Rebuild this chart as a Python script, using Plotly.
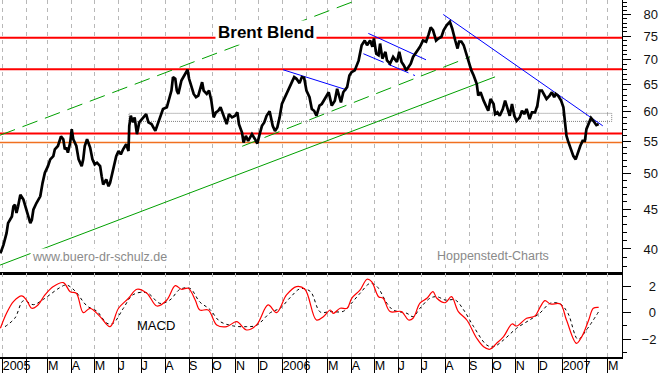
import numpy as np
import pandas as pd
import plotly.graph_objects as go

START = pd.Timestamp("2005-01-01")

# ---------------- data ----------------
# Brent Blend price, days since 2005-01-01
price_days = [
    -3, 1, 5, 7, 12, 14, 16, 18, 20, 23,
    27, 31, 36, 38, 40, 44, 49, 52, 55, 59,
    62, 66, 68, 72, 76, 79, 81, 83, 85, 88,
    90, 92, 96, 99, 101, 103, 105, 107, 110, 114,
    117, 120, 123, 127, 129, 131, 135, 138, 140, 144,
    148, 151, 154, 157, 161, 164, 165, 167, 170, 172,
    175, 178, 182, 187, 190, 194, 199, 203, 207, 209,
    214, 216, 220, 222, 225, 227, 229, 233, 238, 241,
    243, 246, 249, 252, 255, 260, 262, 266, 269, 272,
    275, 278, 281, 284, 287, 290, 292, 295, 299, 303,
    306, 308, 312, 314, 317, 320, 325, 329, 332, 335,
    338, 341, 344, 348, 350, 352, 355, 358, 361, 364,
    367, 370, 374, 377, 380, 383, 387, 390, 393, 396,
    400, 403, 406, 409, 413, 416, 420, 425, 429, 433,
    436, 438, 441, 444, 449, 452, 455, 459, 464, 468,
    472, 475, 479, 482, 484, 487, 490, 492, 495, 499,
    501, 505, 509, 514, 517, 520, 523, 526, 529, 532,
    535, 540, 544, 548, 552, 555, 558, 561, 565, 568,
    572, 575, 579, 583, 586, 590, 593, 595, 598, 601,
    605, 608, 611, 614, 618, 620, 623, 627, 630, 633,
    636, 640, 642, 645, 648, 652, 655, 658, 661, 664,
    667, 670, 674, 677, 680, 683, 687, 690, 694, 697,
    700, 703, 706, 709, 713, 716, 719, 721, 724, 728,
    731, 733, 735, 737, 741, 744, 747, 749, 753, 756,
    759, 761, 764, 767, 770, 774, 777,
]
price_values = [
    39.49, 40.48, 41.92, 43.18, 44.04, 45.36, 45.59, 44.48, 45.36, 46.97,
    46.28, 44.92, 43.18, 43.61, 44.92, 45.82, 46.74, 48.64, 50.11, 51.10,
    52.13, 52.64, 53.71, 54.24, 55.78, 55.33, 53.71, 53.98, 53.18, 54.79,
    57.00, 55.33, 54.24, 52.13, 51.62, 51.10, 52.13, 54.24, 55.33, 53.98,
    52.13, 51.36, 51.62, 51.10, 49.61, 48.39, 49.12, 48.15, 48.64, 50.60,
    52.64, 53.44, 52.91, 53.71, 54.51, 53.44, 57.56, 59.30, 58.15, 59.02,
    56.16, 58.15, 58.72, 59.60, 58.15, 57.86, 56.71, 58.15, 59.60, 60.50,
    60.81, 62.01, 63.89, 66.49, 66.15, 63.89, 63.26, 65.82, 67.14, 67.95,
    66.15, 64.54, 63.26, 62.65, 62.95, 65.50, 63.89, 63.26, 63.89, 62.01,
    59.02, 59.91, 60.19, 60.81, 59.60, 58.72, 57.86, 59.60, 59.02, 59.30,
    59.91, 57.86, 56.44, 54.79, 55.89, 55.05, 56.16, 55.33, 54.63, 56.16,
    57.56, 58.15, 59.30, 60.09, 59.02, 57.56, 56.71, 57.28, 59.02, 61.41,
    62.33, 63.26, 64.21, 65.50, 66.49, 66.15, 65.31, 66.49, 66.35, 63.89,
    62.65, 60.50, 60.19, 59.30, 61.10, 61.41, 62.33, 63.58, 61.10, 62.01,
    64.21, 62.95, 61.70, 63.58, 64.54, 66.81, 67.48, 67.81, 69.80, 73.05,
    74.08, 73.05, 74.08, 72.70, 74.52, 71.26, 70.94, 73.41, 70.21, 71.62,
    69.86, 69.17, 70.56, 69.52, 71.62, 69.52, 68.83, 67.81, 68.50, 69.17,
    70.56, 71.62, 72.70, 74.08, 73.83, 75.26, 77.01, 76.38, 74.08, 74.52,
    74.90, 76.38, 77.52, 78.30, 76.76, 74.08, 72.33, 73.83, 73.83, 73.05,
    70.94, 69.17, 67.81, 66.81, 65.18, 62.95, 63.58, 62.01, 61.10, 60.19,
    62.33, 61.41, 59.60, 59.91, 59.30, 60.50, 62.01, 60.50, 59.30, 61.41,
    59.30, 58.43, 59.02, 60.19, 59.60, 60.50, 58.72, 59.91, 59.91, 61.10,
    63.89, 63.89, 62.95, 62.33, 62.95, 63.58, 62.65, 63.26, 62.95, 62.01,
    60.81, 58.72, 55.89, 55.05, 53.71, 52.64, 52.13, 52.91, 54.24, 55.05,
    55.05, 57.00, 58.15, 58.92, 58.43, 57.68, 57.86,
]

# MACD line and signal line
macd_days = [-3, 5, 14, 25, 31, 38, 46, 55, 66, 79, 88, 96, 105, 114, 127, 140, 151, 164,
             175, 188, 201, 214, 225, 233, 242, 251, 257, 268, 279, 292, 305, 318, 331,
             346, 357, 370, 383, 394, 409, 418, 427, 431, 440, 449, 455, 466, 475, 481,
             490, 496, 505, 520, 529, 535, 544, 553, 561, 566, 577, 585, 594, 605, 618,
             627, 635, 644, 653, 664, 670, 683, 694, 701, 707, 714, 727, 735, 748, 755,
             764, 770, 777]
macd_values = [-1.17, -0.05, 0.83, 1.26, 0.95, 0.33, 0.58, 1.33, 1.96, 2.26, 1.58, 1.46,
               0.0, 0.33, -0.3, -1.05, 0.33, 1.08, 1.76, 1.46, 0.5, 0.95, 2.03, 1.76, 1.83,
               0.95, 0.2, 0.2, -0.92, -1.05, -0.68, -1.3, -0.92, 0.58, 0.0, 1.33, 1.96,
               1.76, -0.55, -0.3, 0.2, -0.05, 0.33, 0.33, 1.08, 1.71, 2.51, 2.33, 1.2,
               1.08, 0.08, 0.08, -0.55, -0.42, 0.71, 1.08, 1.58, 1.08, 0.75, 1.2, 0.08,
               -0.55, -1.92, -2.56, -2.75, -2.3, -1.8, -0.85, -1.0, -0.42, -0.25, 0.45,
               0.9, 0.65, 0.65, -0.55, -2.3, -1.8, -0.55, 0.33, 0.4]
signal_days = [3, 16, 27, 40, 53, 75, 83, 94, 110, 123, 136, 144, 157, 170, 188, 205, 218,
               231, 244, 257, 270, 283, 301, 318, 331, 349, 362, 375, 388, 401, 414, 427,
               444, 453, 466, 479, 488, 501, 509, 527, 535, 544, 557, 566, 577, 590, 601,
               614, 631, 640, 653, 670, 687, 700, 714, 727, 737, 750, 761, 777]
signal_values = [-1.05, -0.4, 0.9, 0.6, 1.0, 1.9, 2.08, 1.65, 0.5, 0.1, -0.8, -0.8, 0.3,
                 1.35, 1.5, 0.7, 0.95, 1.75, 1.83, 0.8, 0.25, -0.65, -1.0, -1.05, -0.95,
                 0.0, 0.35, 1.15, 1.8, 1.6, 0.05, 0.08, 0.1, 0.6, 1.46, 2.2, 1.96, 0.7,
                 0.2, -0.05, -0.3, 0.33, 1.08, 1.2, 0.95, 0.95, 0.2, -1.05, -2.43, -2.56,
                 -2.05, -1.17, -0.55, -0.05, 0.71, 0.65, -0.05, -2.0, -1.3, 0.08]

# horizontal resistance / support levels
red_levels = [74.67, 68.05, 56.29]
orange_levels = [54.79]

# trend lines: [start day, end day], [start price, end price]
green_support_days, green_support_prices = [-3.5, 641.9], [38.14, 66.53]
green_upper_days, green_upper_prices = [-3.5, 468.5], [55.99, 83.93]
green_mid_days, green_mid_prices = [312.2, 609.3], [54.19, 70.60]
blue_a_days, blue_a_prices = [365.4, 448.9], [67.95, 64.00]
blue_b_upper_days, blue_b_upper_prices = [476.7, 551.9], [75.65, 69.97]
blue_b_lower_days, blue_b_lower_prices = [470.2, 537.5], [71.24, 66.78]
blue_c_days, blue_c_prices = [574.4, 782.3], [80.00, 57.57]
# consolidation zone (gray dotted box)
zone_days = [164.7, 794.0]
zone_prices = [58.32, 59.73]

price_ticks = [40, 45, 50, 55, 60, 65, 70, 75, 80]
price_minor = list(range(37, 84))
macd_ticks = [-2, 0, 2]
macd_ticktext = ["\u22122", "\u20070", "\u20072"]
macd_minor = [-3, -1, 1]
month_initials = ["", "", "M", "A", "M", "J", "J", "A", "S", "O", "N", "D"]  # German

assert len(price_days) == len(price_values), (len(price_days), len(price_values))
assert len(macd_days) == len(macd_values), (len(macd_days), len(macd_values))
assert len(signal_days) == len(signal_values), (len(signal_days), len(signal_values))


def to_dates(days):
    return START + pd.to_timedelta(np.asarray(days, dtype=float), unit="D")


x_range = to_dates([-3.52, 807.4])
x_range_str = [d.strftime("%Y-%m-%d %H:%M") for d in x_range]
months = pd.date_range("2005-01-01", "2007-03-01", freq="MS")
month_text = [str(m.year) if m.month == 1 else month_initials[m.month - 1] for m in months]

FONT = "Liberation Sans, Arial, sans-serif"
GRID = "#b8b8b8"
PLOT_H = 357.0

fig = go.Figure()
M = dict(xaxis="x", yaxis="y")
S = dict(xaxis="x2", yaxis="y2")


def line_trace(days, vals, color, width, dash="solid", ax=M, shape="linear"):
    fig.add_trace(go.Scatter(x=to_dates(days), y=vals, mode="lines",
                             line=dict(color=color, width=width, dash=dash, shape=shape),
                             hoverinfo="skip", showlegend=False, **ax))


# horizontal levels
for lvl in red_levels:
    fig.add_trace(go.Scatter(x=x_range, y=[lvl, lvl], mode="lines",
                             line=dict(color="#ff0000", width=2), hoverinfo="skip",
                             showlegend=False, **M))
for lvl in orange_levels:
    fig.add_trace(go.Scatter(x=x_range, y=[lvl, lvl], mode="lines",
                             line=dict(color="#f07020", width=1.5), hoverinfo="skip",
                             showlegend=False, **M))

# consolidation box
zd = [zone_days[0], zone_days[1], zone_days[1], zone_days[0], zone_days[0]]
zp = [zone_prices[0], zone_prices[0], zone_prices[1], zone_prices[1], zone_prices[0]]
line_trace(zd, zp, "#808080", 1, dash="1px,1px")

# trend lines
line_trace(green_support_days, green_support_prices, "#00a000", 1)
line_trace(green_upper_days, green_upper_prices, "#00a000", 1, dash="16px,8px")
line_trace(green_mid_days, green_mid_prices, "#00a000", 1, dash="16px,8px")
line_trace(blue_a_days, blue_a_prices, "#0000ff", 1)
line_trace(blue_b_upper_days, blue_b_upper_prices, "#0000ff", 1)
line_trace(blue_b_lower_days, blue_b_lower_prices, "#0000ff", 1, dash="22px,5px")
line_trace(blue_c_days, blue_c_prices, "#0000ff", 1)

# price
line_trace(price_days, price_values, "#000000", 2.7)

# MACD panel
line_trace(signal_days, signal_values, "#000000", 1, dash="3px,3px", ax=S, shape="spline")
line_trace(macd_days, macd_values, "#ff0000", 1.2, ax=S, shape="spline")

common_x = dict(type="date", range=x_range_str, tickmode="array", tickvals=months,
                showgrid=True, gridcolor=GRID, griddash="4px,4px", gridwidth=1,
                zeroline=False)

fig.update_layout(
    width=663, height=373,
    margin=dict(l=0, r=41, t=0, b=16),
    paper_bgcolor="white", plot_bgcolor="white",
    font=dict(family=FONT, color="#000000"),
    showlegend=False,
    xaxis=dict(**common_x, domain=[0, 1], anchor="y", ticks="", showticklabels=False,
               showline=True, linecolor="#000000", linewidth=2.5),
    yaxis=dict(type="log", domain=[1 - 272 / PLOT_H, 1], anchor="x", side="right",
               range=[np.log10(37.37), np.log10(83.5)],
               tickmode="array", tickvals=price_ticks, ticktext=[str(v) for v in price_ticks],
               ticks="outside", ticklen=8, tickwidth=1, tickcolor="#000000",
               minor=dict(tickmode="array", tickvals=price_minor, ticks="outside",
                          ticklen=4, tickwidth=1, tickcolor="#000000", showgrid=False),
               showline=True, linecolor="#000000", linewidth=1, showgrid=False,
               tickfont=dict(size=13, color="#111111"), ticklabelstandoff=10),
    xaxis2=dict(**common_x, domain=[0, 1], anchor="y2", ticks="outside", ticklen=16,
                tickwidth=1, tickcolor="#000000", showticklabels=False,
                showline=True, linecolor="#000000", linewidth=1.5),
    xaxis3=dict(type="date", range=x_range_str, overlaying="x2", anchor="y2", side="bottom",
                tickmode="array", tickvals=months, ticktext=month_text, ticks="",
                ticklen=0, tickangle=0, showgrid=False, showline=False, zeroline=False,
                ticklabelposition="outside right", ticklabelstandoff=-1,
                tickfont=dict(size=12.5, color="#000000")),
    yaxis2=dict(domain=[0, 1 - 273 / PLOT_H], anchor="x2", side="right", range=[-3.33, 2.98],
                tickmode="array", tickvals=macd_ticks, ticktext=macd_ticktext,
                ticks="outside", ticklen=8, tickwidth=1, tickcolor="#000000",
                minor=dict(tickmode="array", tickvals=macd_minor, ticks="outside",
                           ticklen=4, tickwidth=1, tickcolor="#000000", showgrid=False),
                showline=True, linecolor="#000000", linewidth=1, showgrid=False,
                zeroline=False, tickfont=dict(size=13, color="#111111"),
                ticklabelstandoff=8),
)

# empty trace on xaxis3 so the overlay axis is drawn
fig.add_trace(go.Scatter(x=[], y=[], xaxis="x3", yaxis="y2", showlegend=False))

fig.add_annotation(text="<b>Brent Blend</b>", xref="paper", yref="paper",
                   x=266 / 622, y=1 - 32 / PLOT_H, xanchor="center", yanchor="middle",
                   showarrow=False, font=dict(size=17, family=FONT, color="#000000"),
                   bgcolor="white", borderpad=2)
fig.add_annotation(text="www.buero-dr-schulz.de", xref="paper", yref="paper",
                   x=99.5 / 622, y=1 - 257.3 / PLOT_H, xanchor="center", yanchor="middle",
                   showarrow=False, font=dict(size=12.5, family=FONT, color="#8a8a8a"),
                   bgcolor="white", borderpad=1)
fig.add_annotation(text="Hoppenstedt-Charts", xref="paper", yref="paper",
                   x=492.5 / 622, y=1 - 255.7 / PLOT_H, xanchor="center", yanchor="middle",
                   showarrow=False, font=dict(size=12.5, family=FONT, color="#8a8a8a"),
                   bgcolor="white", borderpad=1)
fig.add_annotation(text="MACD", xref="paper", yref="paper",
                   x=156 / 622, y=1 - 325.7 / PLOT_H, xanchor="center", yanchor="middle",
                   showarrow=False, font=dict(size=13, family=FONT, color="#000000"))

fig.write_html(
    "out.html",
    config={"displayModeBar": False},
    post_script="document.body.style.margin='0px';document.body.style.padding='0px';"
                "document.body.style.overflow='hidden';",
)
